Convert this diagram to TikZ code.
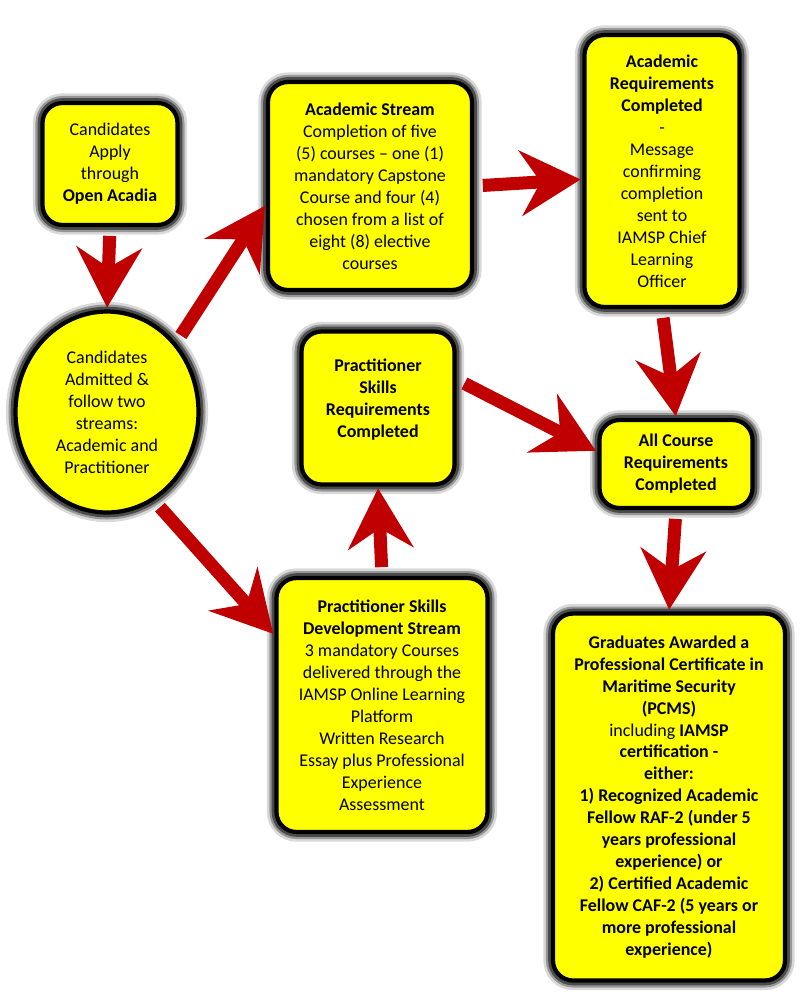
\documentclass[tikz,border=0pt]{standalone}
\usepackage{fontspec}
\setmainfont{Carlito}
\usetikzlibrary{arrows.meta,shapes.geometric}
\definecolor{arrowred}{HTML}{C00000}
\definecolor{boxyellow}{RGB}{255,255,0}

\begin{document}
\begin{tikzpicture}[x=0.02cm,y=-0.02cm,
  box/.style={fill=boxyellow, draw=black, line width=2.4pt, rounded corners=0.4cm,
    align=center, inner sep=0pt, font=\fontsize{10.2}{12.5}\selectfont,
    preaction={draw=black, opacity=0.15, line width=11pt},
    preaction={draw=black, opacity=0.3, line width=8pt},
    preaction={draw=black, opacity=0.5, line width=5.5pt}},
  flow/.style={draw=arrowred, line width=7.4pt,
    -{Stealth[length=1.2cm, width=1.3cm, inset=0.4cm]}, shorten <=5pt, shorten >=1pt}]
\useasboundingbox (0,0) rectangle (800,998);
\node[box, minimum width=2.7cm, minimum height=2.44cm] (apply) at (110,164)
  {Candidates\\Apply\\through\\\textbf{Open Acadia}};
\node[box, ellipse, minimum width=3.66cm, minimum height=4.02cm] (admit) at (107,412)
  {Candidates\\Admitted \&\\follow two\\streams:\\Academic and\\Practitioner};
\node[box, minimum width=4.08cm, minimum height=4.16cm] (acad) at (370,186)
  {\textbf{Academic Stream}\\Completion of five\\(5) courses -- one (1)\\mandatory Capstone\\Course and four (4)\\chosen from a list of\\eight (8) elective\\courses};
\node[box, minimum width=3.1cm, minimum height=5.44cm] (acadok) at (662,171)
  {\textbf{Academic}\\\textbf{Requirements}\\\textbf{Completed}\\-\\Message\\confirming\\completion\\sent to\\IAMSP Chief\\Learning\\Officer};
\node[box, minimum width=3.06cm, minimum height=3.06cm] (pracok) at (378,408)
  {\textbf{Practitioner}\\\textbf{Skills}\\\textbf{Requirements}\\\textbf{Completed}\\[-0.04cm]~};
\node[box, minimum width=3.06cm, minimum height=1.76cm] (allok) at (676,464)
  {\textbf{All Course}\\\textbf{Requirements}\\\textbf{Completed}};
\node[box, minimum width=4.22cm, minimum height=5.08cm] (prac) at (382,705)
  {\textbf{Practitioner Skills}\\\textbf{Development Stream}\\3 mandatory Courses\\delivered through the\\IAMSP Online Learning\\Platform\\Written Research\\Essay plus Professional\\Experience\\Assessment};
\node[box, font=\bfseries\fontsize{10.2}{12.5}\selectfont, minimum width=4.64cm, minimum height=7.34cm] (grad) at (669,797)
  {Graduates Awarded a\\Professional Certificate in\\Maritime Security\\(PCMS)\\\mdseries including \bfseries IAMSP\\certification -\\either:\\1) Recognized Academic\\Fellow RAF-2 (under 5\\years professional\\experience) or\\2) Certified Academic\\Fellow CAF-2 (5 years or\\more professional\\experience)};
\draw[flow] (apply.south) -- (admit.north);
\draw[flow] (admit.45) -- (acad.190);
\draw[flow] (admit.-62) -- (prac.147);
\draw[flow] (prac.north) -- (pracok.south);
\draw[flow] (acad.east) -- (acadok.186);
\draw[flow] (acadok.south) -- (allok.north);
\draw[flow] (pracok.20) -- (allok.171);
\draw[flow] (allok.south) -- (grad.north);
\end{tikzpicture}
\end{document}
